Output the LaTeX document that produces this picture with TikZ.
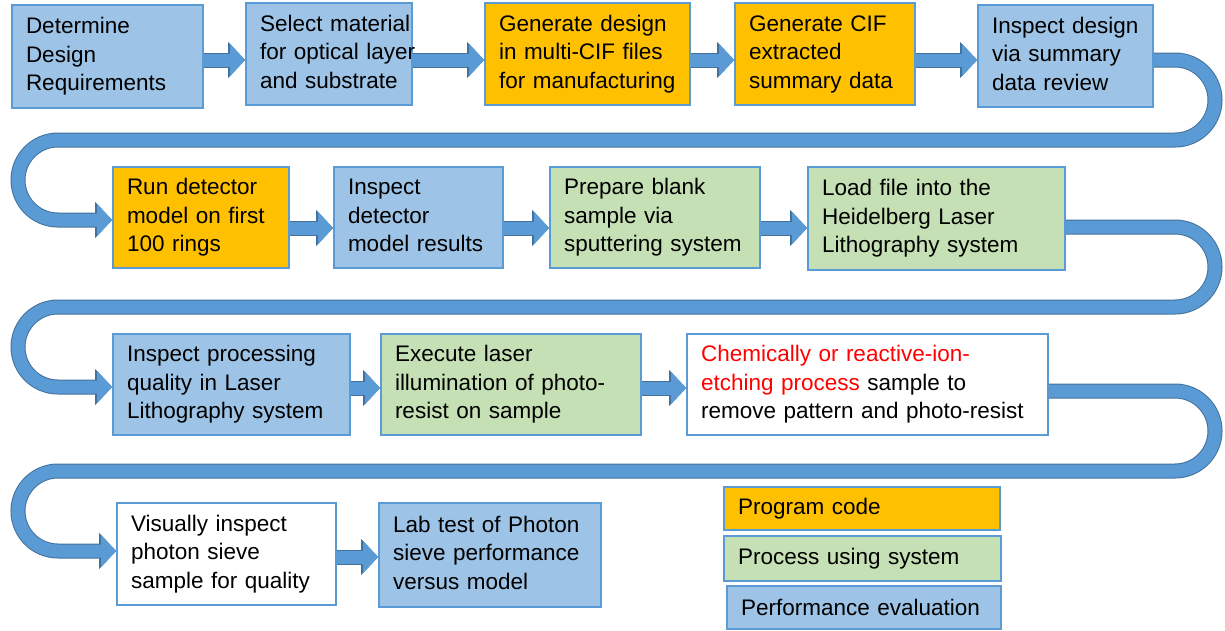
\documentclass[tikz,border=0pt]{standalone}
\usepackage{fontspec}
\setmainfont{Liberation Sans}
\usepackage{tikz}
\usetikzlibrary{arrows.meta}
\definecolor{pblue}{HTML}{9DC3E6}
\definecolor{pedge}{HTML}{5B9BD5}
\definecolor{porange}{HTML}{FFC000}
\definecolor{pgreen}{HTML}{C5E0B4}
\definecolor{ablue}{HTML}{5B9BD5}
\definecolor{aedge}{HTML}{41719C}
\newcommand{\boxtext}[1]{\begin{tabular}{@{}l@{}}#1\end{tabular}}
\tikzstyle{bx}=[draw=pedge, line width=1.6pt, align=left, inner xsep=14pt, inner ysep=0pt, minimum height=102pt, font=\fontsize{22.5}{28.5}\selectfont]
\tikzstyle{ev}=[bx, fill=pblue]
\tikzstyle{pc}=[bx, fill=porange]
\tikzstyle{ps}=[bx, fill=pgreen]
\tikzstyle{vi}=[bx, fill=white]
\tikzstyle{fa}=[-{Triangle[width=31pt,length=15pt]}, line width=13pt, draw=ablue,
    preaction={draw=aedge, line width=15pt, -{Triangle[width=35pt,length=17pt]}}]

\begin{document}
\begin{tikzpicture}[x=1pt, y=-1pt]
            \useasboundingbox (0,0) rectangle (1225,630);
            % first row
            \node[ev, text width=163pt, minimum height=103pt] (B1) at (107.5, 56.5) {\boxtext{Determine\\Design\\Requirements}};
            \node[ev, text width=138pt] (B2) at (329, 54) {\boxtext{Select material\\for optical layer\\and substrate}};
            \node[pc, text width=177pt] (B3) at (587.5, 54) {\boxtext{Generate design\\in multi-CIF files\\for manufacturing}};
            \node[pc, text width=152pt] (B4) at (825, 54) {\boxtext{Generate CIF\\extracted\\summary data}};
            \node[ev, text width=147pt] (B5) at (1065.5, 56) {\boxtext{Inspect design\\via summary\\data review}};
            % second row
            \node[pc, text width=148pt, minimum height=101pt] (B6) at (201, 217.5) {\boxtext{Run detector\\model on first\\100 rings}};
            \node[ev, text width=141pt, minimum height=101pt] (B7) at (418.5, 217.5) {\boxtext{Inspect\\detector\\model results}};
            \node[ps, text width=182pt, minimum height=101pt] (B8) at (655, 217.5) {\boxtext{Prepare blank\\sample via\\sputtering system}};
            \node[ps, text width=229pt, minimum height=103pt] (B9) at (936.5, 218.5) {\boxtext{Load file into the\\Heidelberg Laser\\Lithography system}};
            % third row
            \node[ev, text width=209pt, minimum height=101pt] (B10) at (231.5, 384.5) {\boxtext{Inspect processing\\quality in Laser\\Lithography system}};
            \node[ps, text width=232pt, minimum height=101pt] (B11) at (511, 384.5) {\boxtext{Execute laser\\illumination of photo-\\resist on sample}};
            \node[vi, text width=333pt, minimum height=101pt] (B12) at (867.5, 384.5) {\boxtext{\textcolor{red}{Chemically or reactive-ion-}\\\textcolor{red}{etching process} sample to\\remove pattern and photo-resist}};
            % fourth row
            \node[vi, text width=191pt] (B13) at (226.5, 554) {\boxtext{Visually inspect\\photon sieve\\sample for quality}};
            \node[ev, text width=194pt, minimum height=104pt] (B14) at (490, 555) {\boxtext{Lab test of Photon\\sieve performance\\versus model}};
            % legend
            \node[pc, text width=248pt, minimum height=43pt] (L1) at (862, 508.5) {Program code};
            \node[ps, text width=249pt, minimum height=45pt] (L2) at (862.5, 558.5) {Process using system};
            \node[ev, text width=246pt, minimum height=43pt] (L3) at (864, 607.5) {Performance evaluation};

            \draw[fa] (B1.east |- 0,60) -- (B2.west |- 0,60);
            \draw[fa] (B2.east |- 0,60) -- (B3.west |- 0,60);
            \draw[fa] (B3.east |- 0,60) -- (B4.west |- 0,60);
            \draw[fa] (B4.east |- 0,60) -- (B5.west |- 0,60);
            \draw[fa, rounded corners=40pt] (B5.east |- 0,60) -- (1215,60) -- (1215,140) -- (18,140) -- (18,220) -- (B6.west |- 0,220);
            \draw[fa] (B6.east |- 0,228) -- (B7.west |- 0,228);
            \draw[fa] (B7.east |- 0,228) -- (B8.west |- 0,228);
            \draw[fa] (B8.east |- 0,228) -- (B9.west |- 0,228);
            \draw[fa, rounded corners=40pt] (B9.east |- 0,227) -- (1215,227) -- (1215,307) -- (18,307) -- (18,387) -- (B10.west |- 0,387);
            \draw[fa] (B10.east |- 0,388) -- (B11.west |- 0,388);
            \draw[fa] (B11.east |- 0,388) -- (B12.west |- 0,388);
            \draw[fa, rounded corners=40pt] (B12.east |- 0,391) -- (1215,391) -- (1215,471) -- (18,471) -- (18,551) -- (B13.west |- 0,551);
            \draw[fa] (B13.east |- 0,557) -- (B14.west |- 0,557);
        \end{tikzpicture}
\end{document}
